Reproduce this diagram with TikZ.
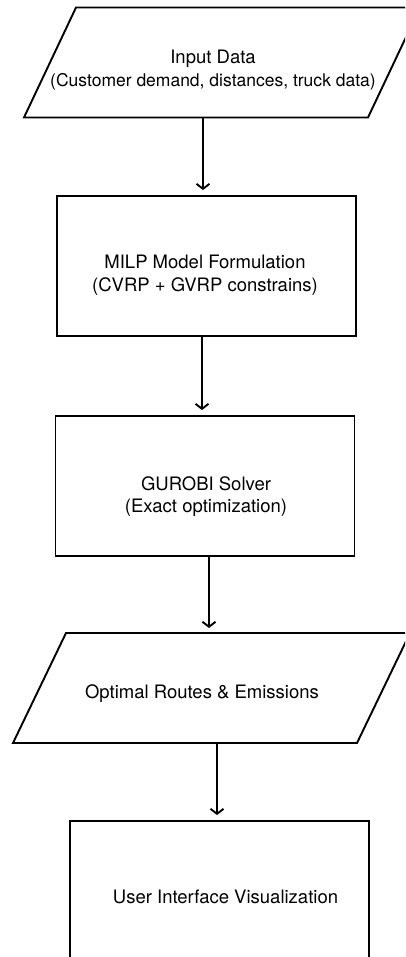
\documentclass[tikz,border=0pt]{standalone}
\usepackage{fontspec}
\setmainfont{TeX Gyre Heros}
\usetikzlibrary{arrows.meta}
\begin{document}
\begin{tikzpicture}[x=1pt,y=-1pt,
  lw/.style={line width=1.9pt},
  procbox/.style={draw, lw, rectangle, minimum width=299pt, minimum height=140pt, inner sep=0pt},
  iobody/.style={rectangle, minimum width=344pt, minimum height=110pt, inner sep=0pt, outer sep=0pt},
  lbl/.style={font=\fontsize{18.5}{22.5}\selectfont, align=center, inner sep=0pt},
  arr/.style={lw, -{Straight Barb[length=5pt,width=13pt]}, shorten >=5pt}
]
\useasboundingbox (0,0) rectangle (405,957);
\clip (0,0) rectangle (405,957);
% input/output parallelograms (body node + slanted outline)
\node[iobody] (p1) at (222,62.5) {};
\draw[lw, line join=miter] ([xshift=-26pt]p1.south west) -- ([xshift=-26pt]p1.south east)
  -- ([xshift=26pt]p1.north east) -- ([xshift=26pt]p1.north west) -- cycle;
\node[lbl] (t1) at (213,70) {Input Data\\{\fontsize{17.5}{22.5}\selectfont (Customer demand, distances, truck data)}};
\node[procbox] (b2) at (206.5,266) {};
\node[lbl] (t2) at (205,275) {MILP Model Formulation\\(CVRP + GVRP constrains)};
\node[procbox] (b3) at (205,486) {};
\node[lbl] (t3) at (206,496.5) {GUROBI Solver\\(Exact optimization)};
\node[iobody] (p4) at (211.5,688) {};
\draw[lw, line join=miter] ([xshift=-26.5pt]p4.south west) -- ([xshift=-26.5pt]p4.south east)
  -- ([xshift=26.5pt]p4.north east) -- ([xshift=26.5pt]p4.north west) -- cycle;
\node[lbl] (t4) at (202,694) {Optimal Routes \& Emissions};
\node[procbox] (b5) at (219.5,891) {};
\node[lbl] (t5) at (225.5,897) {User Interface Visualization};
\coordinate (c1) at (203,0);
\coordinate (c2) at (202,0);
\coordinate (c3) at (209,0);
\coordinate (c4) at (217,0);
\draw[arr] (p1.south -| c1) -- (b2.north -| c1);
\draw[arr] (b2.south -| c2) -- (b3.north -| c2);
\draw[arr] (b3.south -| c3) -- (p4.north -| c3);
\draw[arr] (p4.south -| c4) -- (b5.north -| c4);
\end{tikzpicture}
\end{document}
